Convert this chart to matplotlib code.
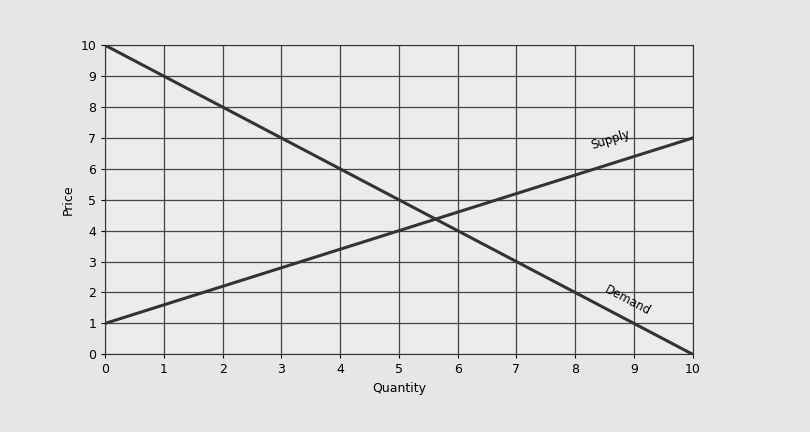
import matplotlib
matplotlib.use("Agg")
import matplotlib.pyplot as plt

quantity = [0, 10]
supply = [1, 7]
demand = [10, 0]
ticks = list(range(11))

fig = plt.figure(figsize=(8.1, 4.32), dpi=100, facecolor="#e6e6e4")
ax = fig.add_axes([0.13, 0.18, 0.725, 0.715], facecolor="#ececea")
ax.plot(quantity, supply, color="#333333", lw=2.2)
ax.plot(quantity, demand, color="#333333", lw=2.2)
ax.set_xlim(0, 10); ax.set_ylim(0, 10)
ax.set_xticks(ticks); ax.set_yticks(ticks)
ax.grid(True, color="#444444", lw=0.9)
for s in ax.spines.values():
    s.set_color("#333333")
ax.tick_params(labelsize=9, length=3)
ax.set_xlabel("Quantity", fontsize=9)
ax.set_ylabel("Price", fontsize=9)
ax.text(8.6, 6.95, "Supply", rotation=17.5, fontsize=8.5, ha="center", va="center")
ax.text(8.9, 1.75, "Demand", rotation=-27.7, fontsize=8.5, ha="center", va="center")
fig.savefig("out.png", dpi=100, facecolor=fig.get_facecolor())
